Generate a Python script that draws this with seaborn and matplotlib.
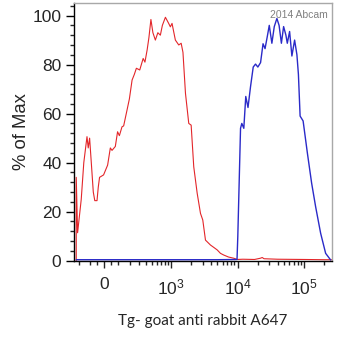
import numpy as np
import pandas as pd
import matplotlib
matplotlib.use("Agg")
import matplotlib.pyplot as plt
import seaborn as sns
from matplotlib.ticker import FixedLocator, FixedFormatter, MultipleLocator

# Isotype / secondary-only control histogram (% of max)
red_x = [-226, -226, -212, -177, -154, -127, -117, -106, -93, -78, -67, -51, -42, -33,
         -5, 23, 42, 54, 78, 95, 109, 130, 144, 174, 196, 223, 247, 270, 311, 357,
         383, 417, 446, 481, 518, 567, 621, 680, 731, 815, 915, 971, 1030, 1158, 1304,
         1418, 1510, 1648, 1848, 2008, 2198, 2476, 2776, 3006, 3300, 3920, 4360, 4950,
         5545, 6220, 7320, 8800, 9900, 12000, 18000, 22000, 23500, 25000, 40000,
         100000, 200000, 262000]
red_y = [0, 34, 11.4, 25, 40, 50.6, 46, 50, 40, 28, 24.5, 24.5, 30, 34,
         35, 39, 46, 45, 46.6, 52.6, 51, 54.6, 55, 61.5, 66, 73.7, 76, 78.5, 77.8, 82.5,
         81, 86, 91, 98.4, 93, 90, 93, 92, 96, 99.3, 96.8, 95.4, 96.8, 90, 88,
         88.7, 85, 68.3, 56, 55.3, 38.3, 27.5, 19.3, 16.6, 8.4, 6.4, 5.5, 4.4,
         3, 2.3, 1.5, 1, 0.5, 0.6, 0.5, 1.0, 1.3, 0.8, 0.6,
         0.5, 0.4, 0.4]

# Tg sample stained with goat anti rabbit A647
blue_x = [-226, 1000, 5000, 9830, 10100, 11100, 11600, 12430, 13300, 14370, 15680,
          17210, 18640, 20190, 22180, 24170, 25900, 27970, 29970, 32800, 35640,
          39000, 42080, 45580, 49200, 53280, 55900, 60540, 65520, 71980, 77960,
          82100, 87040, 96580, 111800, 129700, 148900, 177000, 210400, 250200]
blue_y = [0.4, 0.4, 0.4, 0.5, 10, 54, 56, 54, 67, 62.5, 71,
          79, 80.2, 79, 80.8, 88.5, 86.5, 91.4, 96, 88.7, 95.5,
          98.8, 96, 88.7, 95.5, 92, 88.7, 93.5, 83.5, 90, 84,
          76, 59, 57, 44, 31.6, 22, 11.2, 3, 0.3]

major_ticks = [0, 1e3, 1e4, 1e5]
major_labels = ["0", "$10^{3}$", "$10^{4}$", "$10^{5}$"]
minor_ticks = ([-200, -100, -50, 50] + [k * 100 for k in range(1, 10)]
               + [k * 1000 for k in range(2, 10)] + [k * 10000 for k in range(2, 10)]
               + [200000])

sns.set_style("ticks")
plt.rcParams["font.family"] = ["Liberation Sans", "DejaVu Sans"]
plt.rcParams["mathtext.fontset"] = "custom"
plt.rcParams["mathtext.rm"] = "Liberation Sans"
plt.rcParams["mathtext.it"] = "Liberation Sans:italic"
plt.rcParams["mathtext.bf"] = "Liberation Sans:bold"

fig = plt.figure(figsize=(3.4, 3.4), dpi=100)
ax = fig.add_axes([74 / 340, 1 - 260.7 / 340, (332 - 74) / 340, (260.7 - 3.3) / 340])

# Biexponential-like (arcsinh) display for the fluorescence axis
W = 200.0
ax.set_xscale("function", functions=(lambda v: np.arcsinh(np.asarray(v) / W),
                                     lambda v: W * np.sinh(np.asarray(v))))

red_df = pd.DataFrame({"x": red_x, "y": red_y})
blue_df = pd.DataFrame({"x": blue_x, "y": blue_y})
sns.lineplot(data=red_df, x="x", y="y", sort=False, estimator=None,
             color="#e3262a", lw=0.8, ax=ax)
sns.lineplot(data=blue_df, x="x", y="y", sort=False, estimator=None,
             color="#2a2ac8", lw=1.0, ax=ax)

ax.set_xlim(-250, 262144)
ax.set_ylim(0, 105)

ax.xaxis.set_major_locator(FixedLocator(major_ticks))
ax.xaxis.set_major_formatter(FixedFormatter(major_labels))
ax.xaxis.set_minor_locator(FixedLocator(minor_ticks))
ax.yaxis.set_major_locator(MultipleLocator(20))
ax.yaxis.set_minor_locator(MultipleLocator(4))

ax.tick_params(axis="y", which="major", length=6, width=1, pad=3, labelsize=12.5,
               direction="out", color="black")
ax.tick_params(axis="y", which="minor", length=3, width=1, direction="out")
ax.tick_params(axis="x", which="major", length=5, width=1, pad=7, labelsize=12.5,
               direction="out")
ax.tick_params(axis="x", which="minor", length=3, width=1, direction="out")

for side in ("left", "bottom"):
    ax.spines[side].set_color("black")
    ax.spines[side].set_linewidth(1)
for side in ("top", "right"):
    ax.spines[side].set_color("#a8a8a8")
    ax.spines[side].set_linewidth(1)

ax.set_xlabel("Tg- goat anti rabbit A647", family=["Lato", "DejaVu Sans"],
              fontsize=11, labelpad=12)
ax.set_ylabel("% of Max", fontsize=13.3, labelpad=2)

ax.text(0.985, 0.975, "2014 Abcam", transform=ax.transAxes, ha="right", va="top",
        fontsize=7.5, color="#808080")

fig.savefig("out.png", dpi=100)
